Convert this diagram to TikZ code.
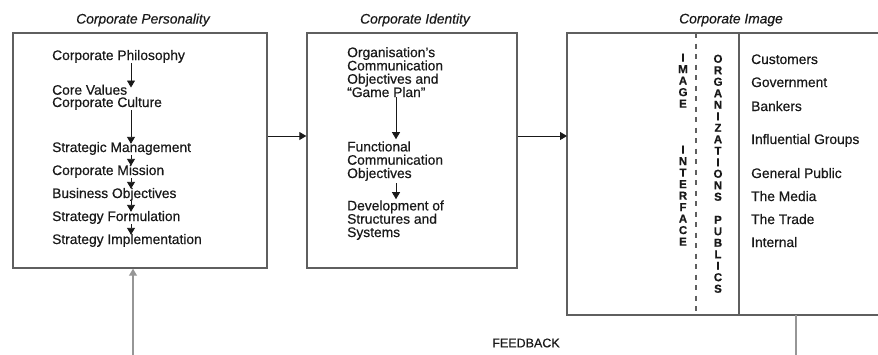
\documentclass[tikz,border=0pt]{standalone}
\usepackage{fontspec}
\setmainfont[FakeBold=0.5]{Liberation Sans}
\usepackage{tikz}
\usetikzlibrary{positioning, arrows.meta, calc}
\definecolor{ciLine}{RGB}{95, 95, 95}
\definecolor{ciText}{RGB}{25, 25, 25}
\definecolor{ciFeed}{RGB}{150, 150, 150}
\tikzset{
    base/.style={
        font=\fontsize{13.8}{13.3}\selectfont,
        text=ciText,
        align=left,
        inner sep=0pt
    },
    item/.style={
        base,
        anchor=base west
    },
    title/.style={
        base,
        font=\fontsize{13.8}{14}\selectfont\itshape
    },
    panel/.style={
        rectangle,
        draw=ciLine,
        line width=1.4pt,
        inner sep=0pt
    },
    letters/.style={
        base,
        font=\fontsize{11.5}{11.5}\selectfont\bfseries,
        align=center,
        anchor=north
    },
    flow/.style={
        -{Triangle[width=8pt,length=7pt]},
        line width=0.9pt,
        color=ciText
    },
    feed/.style={
        line width=1.2pt,
        color=ciFeed
    }
}
\begin{document}
\begin{tikzpicture}[x=1pt, y=-1pt]
  \useasboundingbox (0,0) rectangle (878,354);

  % Panels
  \node[panel, minimum width=254pt, minimum height=235pt] (pers) at (140,150.5) {};
  \node[panel, minimum width=210pt, minimum height=235pt] (ident) at (412,150.5) {};
  \draw[draw=ciLine, line width=1.4pt] (878,33) -- (567,33) coordinate (imgtl) -- (567,315) -- (878,315);
  \coordinate (imgin) at (567,136);

  % Titles
  \node[title] at (143,20) {Corporate Personality};
  \node[title] at (415,20) {Corporate Identity};
  \node[title] at (731,20) {Corporate Image};

  % Corporate Personality
  \node[item] (phil) at (52,60) {Corporate Philosophy};
  \node[item, font=\fontsize{13.8}{12.3}\selectfont] (core) at (52,107) {Core Values\\Corporate Culture};
  \node[item] (stma) at (52,152) {Strategic Management};
  \node[item] (miss) at (52,175) {Corporate Mission};
  \node[item] (busi) at (52,198) {Business Objectives};
  \node[item] (form) at (52,221) {Strategy Formulation};
  \node[item] (impl) at (52,244) {Strategy Implementation};
  \coordinate (ax) at (131,0);
  \draw[flow] (phil.south -| ax) -- ([yshift=-3pt]core.north -| ax);
  \draw[flow] (core.south -| ax) -- ([yshift=-2pt]stma.north -| ax);
  \draw[flow] (stma.south -| ax) -- ([yshift=-1pt]miss.north -| ax);
  \draw[flow] (miss.south -| ax) -- ([yshift=-1pt]busi.north -| ax);
  \draw[flow] (busi.south -| ax) -- ([yshift=-1pt]form.north -| ax);
  \draw[flow] (form.south -| ax) -- ([yshift=-1pt]impl.north -| ax);

  % Corporate Identity
  \node[item] (plan) at (347,97) {Organisation's\\Communication\\Objectives and\\``Game Plan''};
  \node[item] (func) at (347,178) {Functional\\Communication\\Objectives};
  \node[item] (devt) at (347,237) {Development of\\Structures and\\Systems};
  \coordinate (bx) at (396,0);
  \draw[flow] (plan.south -| bx) -- ([yshift=2pt]func.north -| bx);
  \draw[flow] ([yshift=-2pt]func.south -| bx) -- ([yshift=1pt]devt.north -| bx);

  % Corporate Image
  \draw[draw=ciLine, line width=1.2pt, dash pattern=on 5pt off 5.5pt] (696,33) -- (696,315);
  \draw[draw=ciLine, line width=2pt] (739,33) -- (739,315);
  \node[letters] (iface) at (683,53.5) {I\\M\\A\\G\\E\\[34.5pt]I\\N\\T\\E\\R\\F\\A\\C\\E};
  \node[letters] (orgs) at (718,54.5) {O\\R\\G\\A\\N\\I\\Z\\A\\T\\I\\O\\N\\S\\[11.5pt]P\\U\\B\\L\\I\\C\\S};
  \node[item] (cust) at (751,64) {Customers};
  \node[item] (govt) at (751,87) {Government};
  \node[item] (bank) at (751,111) {Bankers};
  \node[item] (infl) at (751,144) {Influential Groups};
  \node[item] (publ) at (751,178) {General Public};
  \node[item] (medi) at (751,201) {The Media};
  \node[item] (trad) at (751,224) {The Trade};
  \node[item] (intl) at (751,247) {Internal};

  % Links between panels
  \coordinate (mid) at (0,136);
  \draw[flow] (pers.east |- mid) -- (ident.west |- mid);
  \draw[flow] (ident.east |- mid) -- (imgin);

  % Feedback
  \coordinate (fbout) at (796,315);
  \coordinate (fbr) at (796,356);
  \coordinate (fbl) at (133,356);
  \draw[feed] (fbout) -- (fbr) -- (fbl);
  \draw[flow, feed, -{Triangle[width=8pt,length=7pt]}, draw=ciFeed, fill=ciText] (fbl) -- (pers.south -| fbl);
  \node[base, font=\fontsize{12.5}{13}\selectfont] (fbtxt) at (526,343) {FEEDBACK};
\end{tikzpicture}
\end{document}
